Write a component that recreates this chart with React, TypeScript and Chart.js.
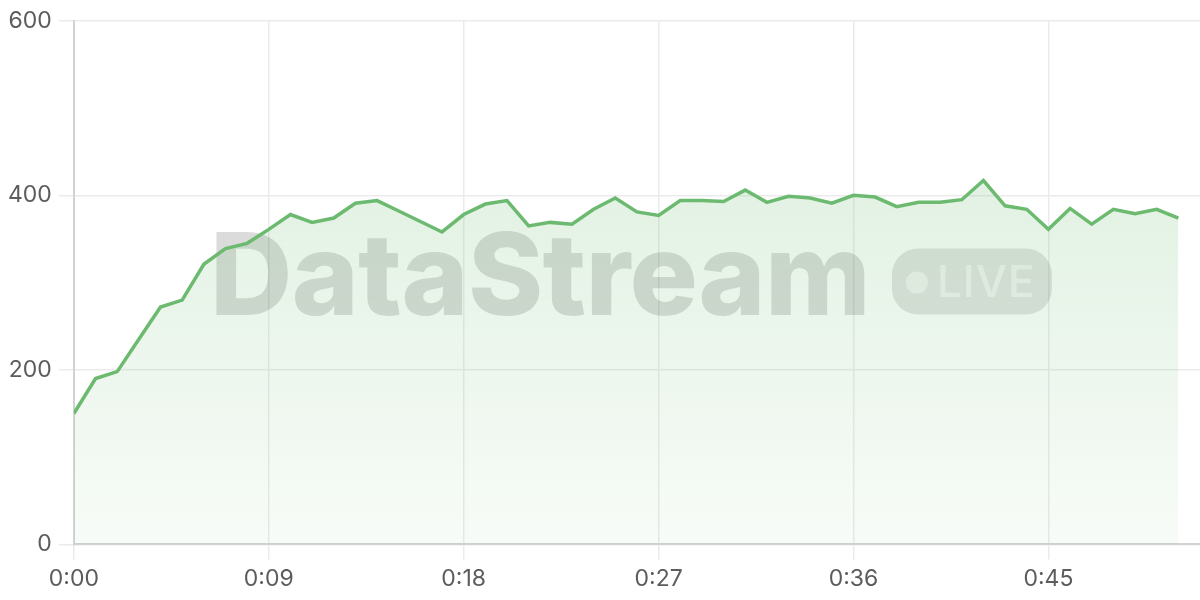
import React, { useEffect, useRef } from "react";
import { Chart, registerables } from "chart.js";

Chart.register(...registerables);

const seconds = [
  0, 1, 2, 3, 4, 5, 6, 7, 8, 9, 10, 11, 12, 13, 14, 15, 16, 17, 18, 19, 20, 21, 22, 23, 24, 25,
  26, 27, 28, 29, 30, 31, 32, 33, 34, 35, 36, 37, 38, 39, 40, 41, 42, 43, 44, 45, 46, 47, 48, 49,
  50, 51,
];
const throughput = [
  150, 190, 198, 235, 272, 280, 321, 339, 345, 361, 378, 369, 374, 391, 394, 382, 370, 358, 378,
  390, 394, 365, 369, 367, 384, 397, 381, 377, 394, 394, 393, 406, 392, 399, 397, 391, 400, 398,
  387, 392, 392, 395, 417, 388, 384, 361, 385, 367, 384, 379, 384, 374,
];
const yTicks = [0, 200, 400, 600];
const watermarkTitle = "DataStream";
const watermarkBadge = "LIVE";

const FONT = "Inter, 'Noto Sans', sans-serif";
const fmt = (v: number) => {
  const m = Math.floor(v / 60);
  const s = Math.round(v % 60);
  return `${m}:${s < 10 ? "0" + s : s}`;
};

const watermarkPlugin = {
  id: "watermark",
  beforeDatasetsDraw(chart: any) {
    const { ctx, chartArea } = chart;
    const cx = (chartArea.left + chartArea.right) / 2 - 6;
    const cy = (chartArea.top + chartArea.bottom) / 2;
    ctx.save();
    ctx.font = `800 114px ${FONT}`;
    (ctx as any).letterSpacing = "0px";
    const raw = ctx.measureText(watermarkTitle).width;
    const targetW = 660;
    const spacing = (targetW - raw) / watermarkTitle.length;
    (ctx as any).letterSpacing = `${spacing}px`;
    const tw = targetW;
    const gap = 22;
    const pw = 160;
    const ph = 66;
    const total = tw + gap + pw;
    const x0 = cx - total / 2;
    const baseline = cy + 32;
    ctx.fillStyle = "rgba(0,0,0,0.14)";
    ctx.textBaseline = "alphabetic";
    ctx.textAlign = "left";
    ctx.fillText(watermarkTitle, x0, baseline);
    const px = x0 + tw + gap;
    const py = baseline - ph;
    ctx.beginPath();
    ctx.roundRect(px, py, pw, ph, 26);
    ctx.fillStyle = "rgba(0,0,0,0.11)";
    ctx.fill();
    ctx.fillStyle = "rgba(255,255,255,0.55)";
    ctx.beginPath();
    ctx.arc(px + 25, py + ph / 2 + 1, 11, 0, Math.PI * 2);
    ctx.fill();
    (ctx as any).letterSpacing = "1px";
    ctx.font = `500 44px ${FONT}`;
    ctx.fillText(watermarkBadge, px + 45, py + 48);
    ctx.restore();
  },
};

export default function App() {
  const ref = useRef<HTMLCanvasElement | null>(null);
  useEffect(() => {
    document.body.style.margin = "0";
    const canvas = ref.current!;
    const chart = new Chart(canvas, {
      type: "line",
      data: {
        datasets: [
          {
            data: seconds.map((s, i) => ({ x: s, y: throughput[i] })),
            borderColor: "#6cba70",
            borderWidth: 3.5,
            pointRadius: 0,
            tension: 0,
            fill: "origin",
            backgroundColor: (c: any) => {
              const area = c.chart.chartArea;
              if (!area) return "rgba(108,186,112,0.2)";
              const g = c.chart.ctx.createLinearGradient(0, area.top, 0, area.bottom);
              g.addColorStop(0, "rgba(108,186,112,0.26)");
              g.addColorStop(1, "rgba(108,186,112,0.05)");
              return g;
            },
          },
        ],
      },
      options: {
        animation: false,
        responsive: true,
        maintainAspectRatio: false,
        layout: { padding: { top: 5, left: 1, right: 0, bottom: 1 } },
        plugins: { legend: { display: false }, tooltip: { enabled: false } },
        scales: {
          x: {
            type: "linear",
            min: 0,
            max: 52,
            grid: { color: "#ebebeb", tickLength: 15, lineWidth: 1.5 },
            border: { color: "#d2d2d2", width: 2 },
            ticks: {
              stepSize: 9,
              includeBounds: false,
              callback: (v: any) => fmt(Number(v)),
              color: "#5c5c5c",
              font: { family: FONT, size: 23 },
              padding: 6,
              maxRotation: 0,
            },
          },
          y: {
            min: 0,
            max: 600,
            afterBuildTicks: (axis: any) => {
              axis.ticks = yTicks.map((v) => ({ value: v }));
            },
            grid: { color: "#ebebeb", tickLength: 15, lineWidth: 1.5 },
            border: { color: "#d2d2d2", width: 2 },
            ticks: {
              color: "#5c5c5c",
              font: { family: FONT, size: 23 },
              padding: 7,
            },
          },
        },
      },
      plugins: [watermarkPlugin],
    });
    return () => chart.destroy();
  }, []);
  return (
    <div style={{ position: "fixed", left: 0, top: 0, width: 1200, height: 600 }}>
      <canvas ref={ref} />
    </div>
  );
}
